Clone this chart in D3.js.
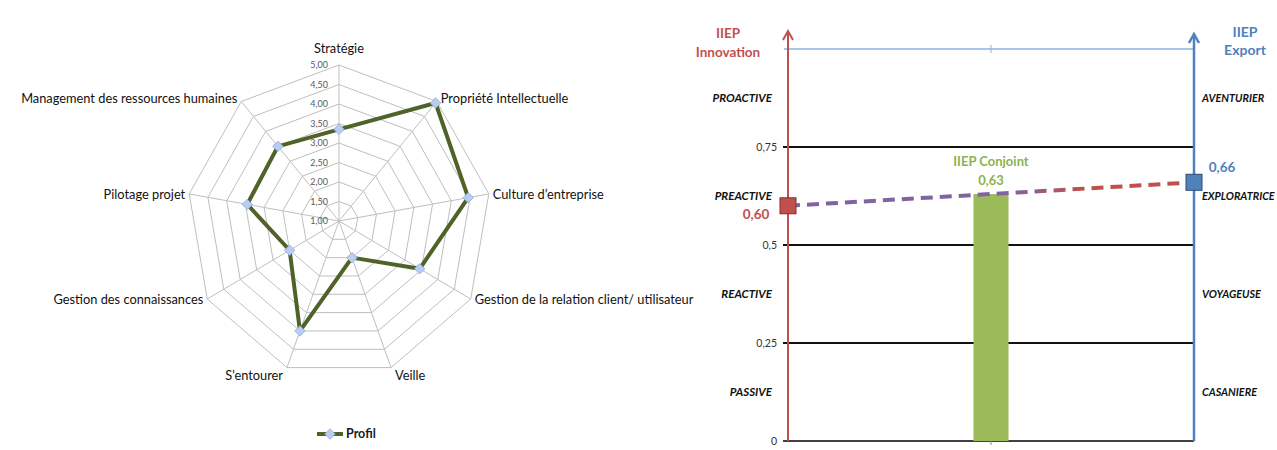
<!DOCTYPE html>
<html><head><meta charset="utf-8">
<script src="https://cdn.jsdelivr.net/npm/d3@7"></script>
<style>
body{margin:0;background:#fff;}
svg{display:block;font-family:Lato,"Open Sans",sans-serif;}
</style></head>
<body>
<svg id="c" width="1277" height="450"></svg>
<script>
// ---------- Radar data ----------
const radarCategories = ["Stratégie","Propriété Intellectuelle","Culture d’entreprise","Gestion de la relation client/ utilisateur","Veille","S’entourer","Gestion des connaissances","Pilotage projet","Management des ressources humaines"];
const radarValues = [3.35, 4.95, 4.45, 3.45, 2.0, 4.0, 2.5, 3.45, 3.5];
const radarTicks = [1.00,1.50,2.00,2.50,3.00,3.50,4.00,4.50,5.00];
const radarSeriesName = "Profil";

// ---------- IIEP data ----------
const zoneThresholds = [0, 0.25, 0.5, 0.75];
const zoneTickLabels = ["0","0,25","0,5","0,75"];
const innovationZones = ["PASSIVE","REACTIVE","PREACTIVE","PROACTIVE"];
const exportZones = ["CASANIERE","VOYAGEUSE","EXPLORATRICE","AVENTURIER"];
const barCategories = ["IIEP Conjoint"];
const barValues = [0.63];
const barLabels = ["0,63"];
const innovationValue = 0.60, innovationLabel = "0,60";
const exportValue = 0.66, exportLabel = "0,66";

const svg = d3.select("#c");

// ================= RADAR =================
(function(){
  const cx = 339, cy = 221, R = 156, xs = 0.975;
  const r = d3.scaleLinear().domain([1,5]).range([0,R]);
  const ang = d3.scaleLinear().domain([0, radarCategories.length]).range([0, 2*Math.PI]);
  const pt = (i, v) => [cx + xs*r(v)*Math.sin(ang(i)), cy - r(v)*Math.cos(ang(i))];
  const g = svg.append("g");
  const idx = d3.range(radarCategories.length);
  radarTicks.slice(1).forEach(t=>{
    g.append("path").attr("d", d3.line()(idx.map(i=>pt(i,t))) + "Z")
      .attr("fill","none").attr("stroke","#bfbfbf").attr("stroke-width",1);
  });
  idx.forEach(i=>{
    const [x,y] = pt(i,5);
    g.append("line").attr("x1",cx).attr("y1",cy).attr("x2",x).attr("y2",y)
      .attr("stroke","#bfbfbf").attr("stroke-width",1);
  });
  radarTicks.forEach(t=>{
    g.append("text").attr("x",cx-11).attr("y",cy - r(t)).attr("dy","0.35em")
      .attr("text-anchor","end").attr("font-size",9).attr("fill","#595959")
      .text(t.toFixed(2).replace(".",","));
  });
  idx.forEach(i=>{
    const [x,y] = pt(i,5);
    const s = Math.sin(ang(i)), c = Math.cos(ang(i));
    const anchor = s>0.1 ? "start" : (s<-0.1 ? "end" : "middle");
    const dx = s>0.1 ? 4 : (s<-0.1 ? -4 : 0);
    const dy = c>0.9 ? -16 : (c>0.5 ? -3 : (c<-0.8 ? 8 : 1));
    g.append("text").attr("x",x+dx).attr("y",y+dy).attr("dy","0.35em")
      .attr("text-anchor",anchor).attr("font-size",12.8).attr("fill","#111")
      .text(radarCategories[i]);
  });
  g.append("path").attr("d", d3.line()(idx.map(i=>pt(i,radarValues[i]))) + "Z")
    .attr("fill","none").attr("stroke","#4f6228").attr("stroke-width",4).attr("stroke-linejoin","round");
  const diamond = d3.symbol().type(d3.symbolDiamond2).size(70);
  idx.forEach(i=>{
    const [x,y] = pt(i,radarValues[i]);
    g.append("path").attr("d",diamond()).attr("transform",`translate(${x},${y})`)
      .attr("fill","#b9cdf0").attr("stroke","#8eaadb").attr("stroke-width",0.8);
  });
  const ly = 434;
  g.append("line").attr("x1",317).attr("x2",343).attr("y1",ly).attr("y2",ly)
    .attr("stroke","#4f6228").attr("stroke-width",4);
  g.append("path").attr("d",diamond()).attr("transform",`translate(330,${ly})`)
    .attr("fill","#b9cdf0").attr("stroke","#8eaadb").attr("stroke-width",0.8);
  g.append("text").attr("x",346).attr("y",ly).attr("dy","0.35em").attr("font-size",12.5)
    .attr("font-weight","bold").attr("fill","#1a1a1a").text(radarSeriesName);
})();

// ================= IIEP =================
(function(){
  const left = 788, right = 1194;
  const y = d3.scaleLinear().domain([0,1]).range([441,49]);
  const x = d3.scaleBand().domain(barCategories).range([left,right]).padding(0.841);
  const g = svg.append("g");
  const red = "#c0504d", blue = "#4f81bd", green = "#9bbb59", purple = "#8064a2";

  g.append("line").attr("x1",left-4).attr("x2",right).attr("y1",y(1)).attr("y2",y(1))
    .attr("stroke","#8db3e2").attr("stroke-width",1.5);
  const cxBar = x(barCategories[0]) + x.bandwidth()/2;
  g.append("line").attr("x1",cxBar).attr("x2",cxBar).attr("y1",y(1)-4).attr("y2",y(1)+4)
    .attr("stroke","#8db3e2").attr("stroke-width",1);

  zoneThresholds.forEach((t,i)=>{
    g.append("line").attr("x1",left-5).attr("x2",right).attr("y1",y(t)).attr("y2",y(t))
      .attr("stroke", t===0 ? "#404040" : "#111").attr("stroke-width",2);
    g.append("text").attr("x",left-11).attr("y",y(t)).attr("dy","0.35em")
      .attr("text-anchor","end").attr("font-size",10.5).attr("fill","#333").text(zoneTickLabels[i]);
  });
  g.append("line").attr("x1",cxBar).attr("x2",cxBar).attr("y1",y(0)).attr("y2",y(0)+4)
    .attr("stroke","#888").attr("stroke-width",1);

  g.selectAll("rect.bar").data(barValues).join("rect").attr("class","bar")
    .attr("x",(d,i)=>x(barCategories[i])).attr("width",x.bandwidth())
    .attr("y",d=>y(d)).attr("height",d=>y(0)-y(d)).attr("fill",green);
  barValues.forEach((d,i)=>{
    g.append("text").attr("x",cxBar).attr("y",y(d)-33).attr("dy","0.35em").attr("text-anchor","middle")
      .attr("font-size",13).attr("font-weight","bold").attr("fill","#8fb14e").text(barCategories[i]);
    g.append("text").attr("x",cxBar).attr("y",y(d)-14).attr("dy","0.35em").attr("text-anchor","middle")
      .attr("font-size",13).attr("font-weight","bold").attr("fill","#8fb14e").text(barLabels[i]);
  });

  g.append("line").attr("x1",left).attr("x2",left).attr("y1",y(0)).attr("y2",31)
    .attr("stroke",red).attr("stroke-width",2);
  g.append("path").attr("d",`M${left-5},${40} L${left},${31} L${left+5},${40}`)
    .attr("fill","none").attr("stroke",red).attr("stroke-width",2);
  g.append("line").attr("x1",right).attr("x2",right).attr("y1",y(0)).attr("y2",34)
    .attr("stroke",blue).attr("stroke-width",2.5);
  g.append("path").attr("d",`M${right-5},${43} L${right},${34} L${right+5},${43}`)
    .attr("fill","none").attr("stroke",blue).attr("stroke-width",2.5);

  [["IIEP",33],["Innovation",52]].forEach(([t,yy])=>g.append("text").attr("x",728).attr("y",yy)
    .attr("dy","0.35em").attr("text-anchor","middle").attr("font-size",13.5).attr("font-weight","bold")
    .attr("fill",red).text(t));
  [["IIEP",32],["Export",50]].forEach(([t,yy])=>g.append("text").attr("x",1245).attr("y",yy)
    .attr("dy","0.35em").attr("text-anchor","middle").attr("font-size",14).attr("font-weight","bold")
    .attr("fill",blue).text(t));

  zoneThresholds.forEach((t,i)=>{
    const mid = (t + (zoneThresholds[i+1] ?? 1))/2;
    g.append("text").attr("x",772).attr("y",y(mid)).attr("dy","0.35em").attr("text-anchor","end")
      .attr("font-size",11.5).attr("font-weight","bold").attr("font-style","italic").attr("fill","#111")
      .text(innovationZones[i]);
    g.append("text").attr("x",1202).attr("y",y(mid)).attr("dy","0.35em").attr("text-anchor","start")
      .attr("font-size",10.8).attr("font-weight","bold").attr("font-style","italic").attr("fill","#111")
      .text(exportZones[i]);
  });

  const defs = svg.append("defs");
  const grad = defs.append("linearGradient").attr("id","lg").attr("gradientUnits","userSpaceOnUse")
    .attr("x1",left).attr("x2",right).attr("y1",0).attr("y2",0);
  grad.append("stop").attr("offset","0%").attr("stop-color",purple);
  grad.append("stop").attr("offset","55%").attr("stop-color",purple);
  grad.append("stop").attr("offset","72%").attr("stop-color",red);
  grad.append("stop").attr("offset","100%").attr("stop-color",red);
  g.append("line").attr("x1",left).attr("x2",right).attr("y1",y(innovationValue)).attr("y2",y(exportValue))
    .attr("stroke","url(#lg)").attr("stroke-width",4).attr("stroke-dasharray","12,7");

  g.append("rect").attr("x",left-8).attr("y",y(innovationValue)-8).attr("width",16).attr("height",16)
    .attr("fill",red).attr("stroke","#7f2f2d").attr("stroke-width",1);
  g.append("rect").attr("x",right-8).attr("y",y(exportValue)-8).attr("width",16).attr("height",16)
    .attr("fill",blue).attr("stroke","#2c4a70").attr("stroke-width",1);
  g.append("text").attr("x",756).attr("y",y(innovationValue)+8).attr("dy","0.35em").attr("text-anchor","middle")
    .attr("font-size",13.5).attr("font-weight","bold").attr("fill",red).text(innovationLabel);
  g.append("text").attr("x",1222).attr("y",y(exportValue)-15).attr("dy","0.35em").attr("text-anchor","middle")
    .attr("font-size",13.5).attr("font-weight","bold").attr("fill",blue).text(exportLabel);
})();
</script>
</body></html>
